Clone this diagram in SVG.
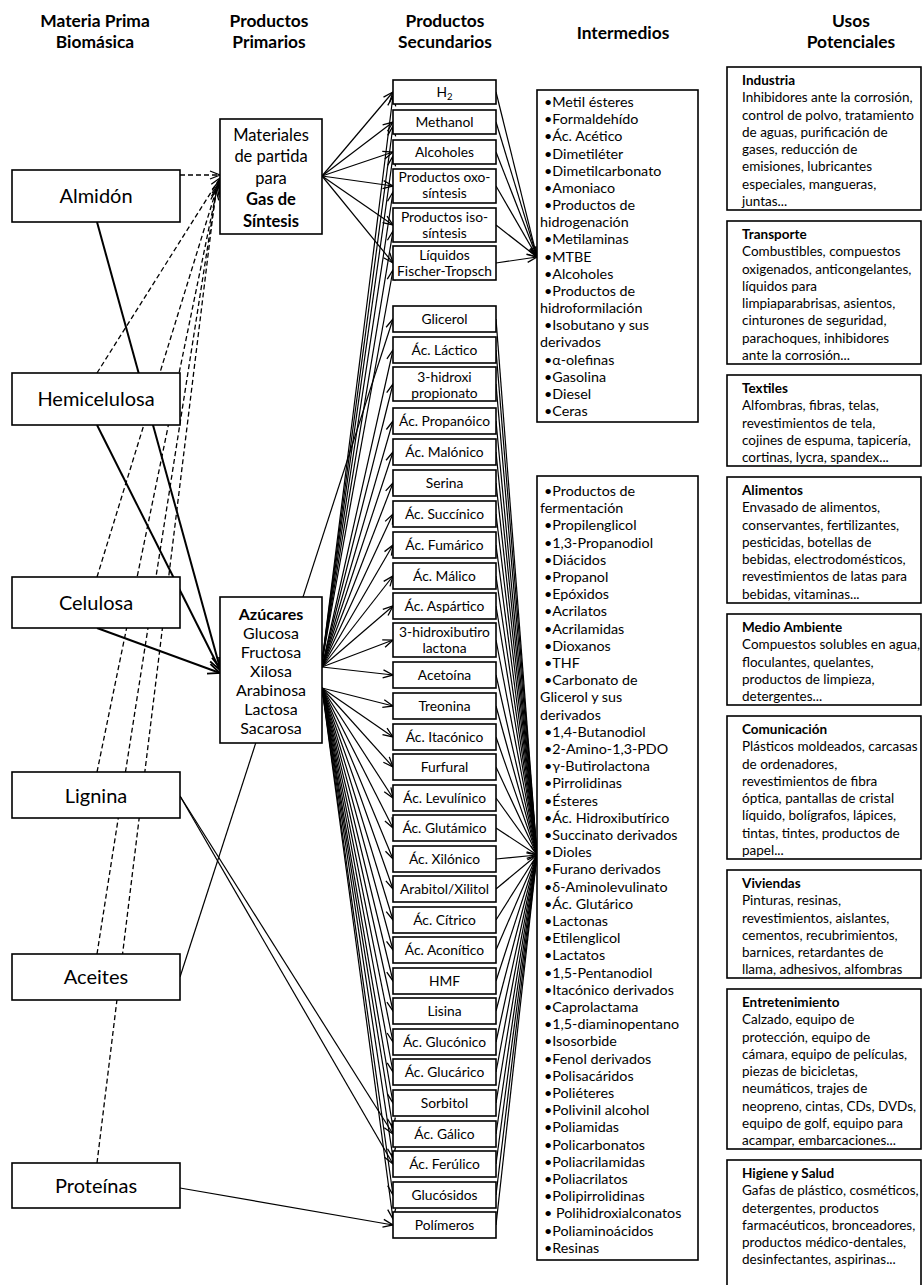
<svg xmlns="http://www.w3.org/2000/svg" width="923" height="1285" viewBox="0 0 923 1285">
<style>
.box{fill:#fff;stroke:#000;stroke-width:1.6}
text{font-family:Lato,'Liberation Sans',sans-serif;fill:#000}
.hd{font-size:17.4px;font-weight:bold;text-anchor:middle}
.bm{font-size:20px;text-anchor:middle}
.pp{font-size:16.5px;text-anchor:middle}
.pz{font-size:16px;text-anchor:middle}
.s{font-size:13.8px;text-anchor:middle}
.im{font-size:14.3px}
.us{font-size:13.5px}
.b{font-weight:bold}
.c line{stroke:#000;fill:none}
.thin{stroke-width:1.2}
.thick{stroke-width:2}
.dash{stroke-width:1.3;stroke-dasharray:5 3}
</style>
<defs>
<marker id="ah" markerUnits="userSpaceOnUse" markerWidth="12" markerHeight="10" refX="11" refY="5" orient="auto" overflow="visible">
<path d="M1,1 L11,5 L1,9" fill="none" stroke="#000" stroke-width="1.3"/>
</marker>
<marker id="ahb" markerUnits="userSpaceOnUse" markerWidth="14" markerHeight="12" refX="13" refY="6" orient="auto" overflow="visible">
<path d="M1,1 L13,6 L1,11" fill="none" stroke="#000" stroke-width="1.8"/>
</marker>
</defs>
<rect width="923" height="1285" fill="#fff"/>

<g id="headers">
<text class="hd" x="95" y="26.5">Materia Prima</text><text class="hd" x="95" y="47.5">Biomásica</text>
<text class="hd" x="269" y="26.5">Productos</text><text class="hd" x="269" y="47.5">Primarios</text>
<text class="hd" x="445" y="26.5">Productos</text><text class="hd" x="445" y="47.5">Secundarios</text>
<text class="hd" x="623" y="39">Intermedios</text>
<text class="hd" x="851" y="26.5">Usos</text><text class="hd" x="851" y="47.5">Potenciales</text>
</g>

<g id="connectors" class="c">
<line class="dash" x1="180" y1="175" x2="220" y2="175" marker-end="url(#ah)"/>
<line class="dash" x1="97" y1="373" x2="220" y2="178" marker-end="url(#ah)"/>
<line class="dash" x1="97" y1="577" x2="219" y2="181" marker-end="url(#ah)"/>
<line class="dash" x1="97" y1="772" x2="218" y2="184" marker-end="url(#ah)"/>
<line class="dash" x1="97" y1="954" x2="217" y2="187" marker-end="url(#ah)"/>
<line class="dash" x1="97" y1="1163" x2="216" y2="190" marker-end="url(#ah)"/>
<line class="thick" x1="97" y1="222" x2="220" y2="668" marker-end="url(#ahb)"/>
<line class="thick" x1="97" y1="425" x2="220" y2="670" marker-end="url(#ahb)"/>
<line class="thick" x1="97" y1="628" x2="220" y2="673" marker-end="url(#ahb)"/>
<line class="thin" x1="180" y1="977" x2="393" y2="319" marker-end="url(#ah)"/>
<line class="thin" x1="180" y1="796" x2="393" y2="1134" marker-end="url(#ah)"/>
<line class="thin" x1="180" y1="796" x2="393" y2="1164" marker-end="url(#ah)"/>
<line class="thin" x1="180" y1="1188" x2="393" y2="1225" marker-end="url(#ah)"/>
<line class="thin" x1="322" y1="176" x2="393" y2="92" marker-end="url(#ah)"/>
<line class="thin" x1="322" y1="176" x2="393" y2="122" marker-end="url(#ah)"/>
<line class="thin" x1="322" y1="176" x2="393" y2="152" marker-end="url(#ah)"/>
<line class="thin" x1="322" y1="176" x2="393" y2="186" marker-end="url(#ah)"/>
<line class="thin" x1="322" y1="176" x2="393" y2="225" marker-end="url(#ah)"/>
<line class="thin" x1="322" y1="176" x2="393" y2="263" marker-end="url(#ah)"/>
<line class="thin" x1="322" y1="662" x2="393" y2="96" marker-end="url(#ah)"/>
<line class="thin" x1="322" y1="662" x2="393" y2="126" marker-end="url(#ah)"/>
<line class="thin" x1="322" y1="662" x2="393" y2="156" marker-end="url(#ah)"/>
<line class="thin" x1="322" y1="662" x2="393" y2="192" marker-end="url(#ah)"/>
<line class="thin" x1="322" y1="662" x2="393" y2="231" marker-end="url(#ah)"/>
<line class="thin" x1="322" y1="662" x2="393" y2="270" marker-end="url(#ah)"/>
<line class="thin" x1="322" y1="667" x2="393" y2="350" marker-end="url(#ah)"/>
<line class="thin" x1="322" y1="667" x2="393" y2="384" marker-end="url(#ah)"/>
<line class="thin" x1="322" y1="667" x2="393" y2="421" marker-end="url(#ah)"/>
<line class="thin" x1="322" y1="667" x2="393" y2="452" marker-end="url(#ah)"/>
<line class="thin" x1="322" y1="667" x2="393" y2="483" marker-end="url(#ah)"/>
<line class="thin" x1="322" y1="667" x2="393" y2="514" marker-end="url(#ah)"/>
<line class="thin" x1="322" y1="667" x2="393" y2="545" marker-end="url(#ah)"/>
<line class="thin" x1="322" y1="667" x2="393" y2="576" marker-end="url(#ah)"/>
<line class="thin" x1="322" y1="667" x2="393" y2="606" marker-end="url(#ah)"/>
<line class="thin" x1="322" y1="667" x2="393" y2="640" marker-end="url(#ah)"/>
<line class="thin" x1="322" y1="667" x2="393" y2="675" marker-end="url(#ah)"/>
<line class="thin" x1="322" y1="688" x2="393" y2="706" marker-end="url(#ah)"/>
<line class="thin" x1="322" y1="688" x2="393" y2="737" marker-end="url(#ah)"/>
<line class="thin" x1="322" y1="688" x2="393" y2="767" marker-end="url(#ah)"/>
<line class="thin" x1="322" y1="688" x2="393" y2="798" marker-end="url(#ah)"/>
<line class="thin" x1="322" y1="688" x2="393" y2="828" marker-end="url(#ah)"/>
<line class="thin" x1="322" y1="688" x2="393" y2="859" marker-end="url(#ah)"/>
<line class="thin" x1="322" y1="688" x2="393" y2="889" marker-end="url(#ah)"/>
<line class="thin" x1="322" y1="688" x2="393" y2="920" marker-end="url(#ah)"/>
<line class="thin" x1="322" y1="688" x2="393" y2="950" marker-end="url(#ah)"/>
<line class="thin" x1="322" y1="688" x2="393" y2="981" marker-end="url(#ah)"/>
<line class="thin" x1="322" y1="688" x2="393" y2="1011" marker-end="url(#ah)"/>
<line class="thin" x1="322" y1="688" x2="393" y2="1042" marker-end="url(#ah)"/>
<line class="thin" x1="322" y1="688" x2="393" y2="1072" marker-end="url(#ah)"/>
<line class="thin" x1="322" y1="688" x2="393" y2="1103" marker-end="url(#ah)"/>
<line class="thin" x1="322" y1="688" x2="393" y2="1128" marker-end="url(#ah)"/>
<line class="thin" x1="322" y1="688" x2="393" y2="1158" marker-end="url(#ah)"/>
<line class="thin" x1="322" y1="688" x2="393" y2="1195" marker-end="url(#ah)"/>
<line class="thin" x1="322" y1="688" x2="393" y2="1219" marker-end="url(#ah)"/>
<line class="thin" x1="496" y1="92" x2="537" y2="257" marker-end="url(#ah)"/>
<line class="thin" x1="496" y1="122" x2="537" y2="257" marker-end="url(#ah)"/>
<line class="thin" x1="496" y1="152" x2="537" y2="257" marker-end="url(#ah)"/>
<line class="thin" x1="496" y1="186" x2="537" y2="257" marker-end="url(#ah)"/>
<line class="thin" x1="496" y1="225" x2="537" y2="257" marker-end="url(#ah)"/>
<line class="thin" x1="496" y1="263" x2="537" y2="257" marker-end="url(#ah)"/>
<line class="thin" x1="496" y1="319" x2="537" y2="855"/>
<line class="thin" x1="496" y1="350" x2="537" y2="855"/>
<line class="thin" x1="496" y1="384" x2="537" y2="855"/>
<line class="thin" x1="496" y1="421" x2="537" y2="855"/>
<line class="thin" x1="496" y1="452" x2="537" y2="855"/>
<line class="thin" x1="496" y1="483" x2="537" y2="855"/>
<line class="thin" x1="496" y1="514" x2="537" y2="855"/>
<line class="thin" x1="496" y1="545" x2="537" y2="855"/>
<line class="thin" x1="496" y1="576" x2="537" y2="855"/>
<line class="thin" x1="496" y1="606" x2="537" y2="855"/>
<line class="thin" x1="496" y1="640" x2="537" y2="855"/>
<line class="thin" x1="496" y1="675" x2="537" y2="855"/>
<line class="thin" x1="496" y1="706" x2="537" y2="855"/>
<line class="thin" x1="496" y1="737" x2="537" y2="855"/>
<line class="thin" x1="496" y1="767" x2="537" y2="855"/>
<line class="thin" x1="496" y1="798" x2="537" y2="855"/>
<line class="thin" x1="496" y1="828" x2="537" y2="855" marker-end="url(#ah)"/>
<line class="thin" x1="496" y1="859" x2="537" y2="855" marker-end="url(#ah)"/>
<line class="thin" x1="496" y1="889" x2="537" y2="855" marker-end="url(#ah)"/>
<line class="thin" x1="496" y1="920" x2="537" y2="855"/>
<line class="thin" x1="496" y1="950" x2="537" y2="855"/>
<line class="thin" x1="496" y1="981" x2="537" y2="855"/>
<line class="thin" x1="496" y1="1011" x2="537" y2="855"/>
<line class="thin" x1="496" y1="1042" x2="537" y2="855"/>
<line class="thin" x1="496" y1="1072" x2="537" y2="855"/>
<line class="thin" x1="496" y1="1103" x2="537" y2="855"/>
<line class="thin" x1="496" y1="1134" x2="537" y2="855"/>
<line class="thin" x1="496" y1="1164" x2="537" y2="855"/>
<line class="thin" x1="496" y1="1195" x2="537" y2="855"/>
<line class="thin" x1="496" y1="1225" x2="537" y2="855"/>
</g>

<g id="biomasa">
<g id="almidon"><rect class="box" x="12" y="170" width="168" height="52"/><text class="bm" x="96" y="203">Almidón</text></g>
<g id="hemicelulosa"><rect class="box" x="12" y="373" width="168" height="52"/><text class="bm" x="96" y="406">Hemicelulosa</text></g>
<g id="celulosa"><rect class="box" x="12" y="577" width="168" height="51"/><text class="bm" x="96" y="610">Celulosa</text></g>
<g id="lignina"><rect class="box" x="12" y="772" width="168" height="46"/><text class="bm" x="96" y="803">Lignina</text></g>
<g id="aceites"><rect class="box" x="12" y="954" width="168" height="46"/><text class="bm" x="96" y="984">Aceites</text></g>
<g id="proteinas"><rect class="box" x="12" y="1163" width="168" height="45"/><text class="bm" x="96" y="1193">Proteínas</text></g>
</g>

<g id="primarios">
<g id="gas-sintesis"><rect class="box" x="220" y="119" width="102" height="115"/>
<text class="pp" x="271" y="141">Materiales</text><text class="pp" x="271" y="162">de partida</text><text class="pp" x="271" y="184">para</text><text class="pp b" x="271" y="205">Gas de</text><text class="pp b" x="271" y="227">Síntesis</text></g>
<g id="azucares"><rect class="box" x="220" y="597" width="102" height="146"/>
<text class="pz b" x="271" y="619.5">Azúcares</text><text class="pz" x="271" y="638.5">Glucosa</text><text class="pz" x="271" y="657.5">Fructosa</text><text class="pz" x="271" y="676.5">Xilosa</text><text class="pz" x="271" y="695.5">Arabinosa</text><text class="pz" x="271" y="714.5">Lactosa</text><text class="pz" x="271" y="733.5">Sacarosa</text></g>
</g>

<g id="secundarios">
<g id="h2"><rect class="box" x="393" y="80" width="103" height="24"/><text class="s" x="444.5" y="97">H<tspan font-size="9.5" dy="3">2</tspan></text></g>
<g id="methanol"><rect class="box" x="393" y="110" width="103" height="24"/><text class="s" x="444.5" y="127">Methanol</text></g>
<g id="alcoholes"><rect class="box" x="393" y="140" width="103" height="24"/><text class="s" x="444.5" y="157">Alcoholes</text></g>
<g id="oxo"><rect class="box" x="393" y="169" width="103" height="34"/><text class="s" x="444.5" y="182">Productos oxo-</text><text class="s" x="444.5" y="198">síntesis</text></g>
<g id="iso"><rect class="box" x="393" y="208" width="103" height="34"/><text class="s" x="444.5" y="222">Productos iso-</text><text class="s" x="444.5" y="238">síntesis</text></g>
<g id="ft"><rect class="box" x="393" y="246" width="103" height="34"/><text class="s" x="444.5" y="260">Líquidos</text><text class="s" x="444.5" y="276">Fischer-Tropsch</text></g>
<g id="glicerol"><rect class="box" x="393" y="306" width="103" height="26"/><text class="s" x="444.5" y="324">Glicerol</text></g>
<g id="lactico"><rect class="box" x="393" y="337" width="103" height="26"/><text class="s" x="444.5" y="355">Ác. Láctico</text></g>
<g id="hidroxipropionato"><rect class="box" x="393" y="367" width="103" height="34"/><text class="s" x="444.5" y="382">3-hidroxi</text><text class="s" x="444.5" y="398">propionato</text></g>
<g id="propanoico"><rect class="box" x="393" y="408" width="103" height="26"/><text class="s" x="444.5" y="426">Ác. Propanóico</text></g>
<g id="malonico"><rect class="box" x="393" y="439" width="103" height="26"/><text class="s" x="444.5" y="457">Ác. Malónico</text></g>
<g id="serina"><rect class="box" x="393" y="470" width="103" height="26"/><text class="s" x="444.5" y="488">Serina</text></g>
<g id="succinico"><rect class="box" x="393" y="501" width="103" height="26"/><text class="s" x="444.5" y="519">Ác. Succínico</text></g>
<g id="fumarico"><rect class="box" x="393" y="532" width="103" height="26"/><text class="s" x="444.5" y="550">Ác. Fumárico</text></g>
<g id="malico"><rect class="box" x="393" y="563" width="103" height="26"/><text class="s" x="444.5" y="581">Ác. Málico</text></g>
<g id="aspartico"><rect class="box" x="393" y="593" width="103" height="26"/><text class="s" x="444.5" y="611">Ác. Aspártico</text></g>
<g id="hidroxibutirolactona"><rect class="box" x="393" y="623" width="103" height="34"/><text class="s" x="444.5" y="637">3-hidroxibutiro</text><text class="s" x="444.5" y="653">lactona</text></g>
<g id="acetoina"><rect class="box" x="393" y="662" width="103" height="26"/><text class="s" x="444.5" y="680">Acetoína</text></g>
<g id="treonina"><rect class="box" x="393" y="693" width="103" height="26"/><text class="s" x="444.5" y="711">Treonina</text></g>
<g id="itaconico"><rect class="box" x="393" y="724" width="103" height="26"/><text class="s" x="444.5" y="742">Ác. Itacónico</text></g>
<g id="furfural"><rect class="box" x="393" y="754" width="103" height="26"/><text class="s" x="444.5" y="772">Furfural</text></g>
<g id="levulinico"><rect class="box" x="393" y="785" width="103" height="26"/><text class="s" x="444.5" y="803">Ác. Levulínico</text></g>
<g id="glutamico"><rect class="box" x="393" y="815" width="103" height="26"/><text class="s" x="444.5" y="833">Ác. Glutámico</text></g>
<g id="xilonico"><rect class="box" x="393" y="846" width="103" height="26"/><text class="s" x="444.5" y="864">Ác. Xilónico</text></g>
<g id="arabitol"><rect class="box" x="393" y="876" width="103" height="26"/><text class="s" x="444.5" y="894">Arabitol/Xilitol</text></g>
<g id="citrico"><rect class="box" x="393" y="907" width="103" height="26"/><text class="s" x="444.5" y="925">Ác. Cítrico</text></g>
<g id="aconitico"><rect class="box" x="393" y="937" width="103" height="26"/><text class="s" x="444.5" y="955">Ác. Aconítico</text></g>
<g id="hmf"><rect class="box" x="393" y="968" width="103" height="26"/><text class="s" x="444.5" y="986">HMF</text></g>
<g id="lisina"><rect class="box" x="393" y="998" width="103" height="26"/><text class="s" x="444.5" y="1016">Lisina</text></g>
<g id="gluconico"><rect class="box" x="393" y="1029" width="103" height="26"/><text class="s" x="444.5" y="1047">Ác. Glucónico</text></g>
<g id="glucarico"><rect class="box" x="393" y="1059" width="103" height="26"/><text class="s" x="444.5" y="1077">Ác. Glucárico</text></g>
<g id="sorbitol"><rect class="box" x="393" y="1090" width="103" height="26"/><text class="s" x="444.5" y="1108">Sorbitol</text></g>
<g id="galico"><rect class="box" x="393" y="1121" width="103" height="26"/><text class="s" x="444.5" y="1139">Ác. Gálico</text></g>
<g id="ferulico"><rect class="box" x="393" y="1151" width="103" height="26"/><text class="s" x="444.5" y="1169">Ác. Ferúlico</text></g>
<g id="glucosidos"><rect class="box" x="393" y="1182" width="103" height="26"/><text class="s" x="444.5" y="1200">Glucósidos</text></g>
<g id="polimeros"><rect class="box" x="393" y="1212" width="103" height="26"/><text class="s" x="444.5" y="1230">Polímeros</text></g>
</g>

<g id="intermedios">
<g id="intermedios-gas"><rect class="box" x="537" y="90" width="161" height="332"/>
<text class="im" y="107"><tspan x="544">•Metil ésteres</tspan><tspan x="544" dy="17.17">•Formaldehído</tspan><tspan x="544" dy="17.17">•Ác. Acético</tspan><tspan x="544" dy="17.17">•Dimetiléter</tspan><tspan x="544" dy="17.17">•Dimetilcarbonato</tspan><tspan x="544" dy="17.17">•Amoniaco</tspan><tspan x="544" dy="17.17">•Productos de</tspan><tspan x="540" dy="17.17">hidrogenación</tspan><tspan x="544" dy="17.17">•Metilaminas</tspan><tspan x="544" dy="17.17">•MTBE</tspan><tspan x="544" dy="17.17">•Alcoholes</tspan><tspan x="544" dy="17.17">•Productos de</tspan><tspan x="540" dy="17.17">hidroformilación</tspan><tspan x="544" dy="17.17">•Isobutano y sus</tspan><tspan x="540" dy="17.17">derivados</tspan><tspan x="544" dy="17.17">•α-olefinas</tspan><tspan x="544" dy="17.17">•Gasolina</tspan><tspan x="544" dy="17.17">•Diesel</tspan><tspan x="544" dy="17.17">•Ceras</tspan></text></g>
<g id="intermedios-azucares"><rect class="box" x="537" y="476" width="161" height="784"/>
<text class="im" y="496" xml:space="preserve"><tspan x="544">•Productos de</tspan><tspan x="540" dy="17.2">fermentación</tspan><tspan x="544" dy="17.2">•Propilenglicol</tspan><tspan x="544" dy="17.2">•1,3-Propanodiol</tspan><tspan x="544" dy="17.2">•Diácidos</tspan><tspan x="544" dy="17.2">•Propanol</tspan><tspan x="544" dy="17.2">•Epóxidos</tspan><tspan x="544" dy="17.2">•Acrilatos</tspan><tspan x="544" dy="17.2">•Acrilamidas</tspan><tspan x="544" dy="17.2">•Dioxanos</tspan><tspan x="544" dy="17.2">•THF</tspan><tspan x="544" dy="17.2">•Carbonato de</tspan><tspan x="540" dy="17.2">Glicerol y sus</tspan><tspan x="540" dy="17.2">derivados</tspan><tspan x="544" dy="17.2">•1,4-Butanodiol</tspan><tspan x="544" dy="17.2">•2-Amino-1,3-PDO</tspan><tspan x="544" dy="17.2">•γ-Butirolactona</tspan><tspan x="544" dy="17.2">•Pirrolidinas</tspan><tspan x="544" dy="17.2">•Ésteres</tspan><tspan x="544" dy="17.2">•Ác. Hidroxibutírico</tspan><tspan x="544" dy="17.2">•Succinato derivados</tspan><tspan x="544" dy="17.2">•Dioles</tspan><tspan x="544" dy="17.2">•Furano derivados</tspan><tspan x="544" dy="17.2">•δ-Aminolevulinato</tspan><tspan x="544" dy="17.2">•Ác. Glutárico</tspan><tspan x="544" dy="17.2">•Lactonas</tspan><tspan x="544" dy="17.2">•Etilenglicol</tspan><tspan x="544" dy="17.2">•Lactatos</tspan><tspan x="544" dy="17.2">•1,5-Pentanodiol</tspan><tspan x="544" dy="17.2">•Itacónico derivados</tspan><tspan x="544" dy="17.2">•Caprolactama</tspan><tspan x="544" dy="17.2">•1,5-diaminopentano</tspan><tspan x="544" dy="17.2">•Isosorbide</tspan><tspan x="544" dy="17.2">•Fenol derivados</tspan><tspan x="544" dy="17.2">•Polisacáridos</tspan><tspan x="544" dy="17.2">•Poliéteres</tspan><tspan x="544" dy="17.2">•Polivinil alcohol</tspan><tspan x="544" dy="17.2">•Poliamidas</tspan><tspan x="544" dy="17.2">•Policarbonatos</tspan><tspan x="544" dy="17.2">•Poliacrilamidas</tspan><tspan x="544" dy="17.2">•Poliacrilatos</tspan><tspan x="544" dy="17.2">•Polipirrolidinas</tspan><tspan x="544" dy="17.2">• Polihidroxialconatos</tspan><tspan x="544" dy="17.2">•Poliaminoácidos</tspan><tspan x="544" dy="17.2">•Resinas</tspan></text></g>
</g>

<g id="usos">
<g id="industria"><rect class="box" x="727" y="67" width="194" height="143"/>
<text class="us" y="85"><tspan x="742" class="b">Industria</tspan><tspan x="742" dy="17.25">Inhibidores ante la corrosión,</tspan><tspan x="742" dy="17.25">control de polvo, tratamiento</tspan><tspan x="742" dy="17.25">de aguas, purificación de</tspan><tspan x="742" dy="17.25">gases, reducción de</tspan><tspan x="742" dy="17.25">emisiones, lubricantes</tspan><tspan x="742" dy="17.25">especiales, mangueras,</tspan><tspan x="742" dy="17.25">juntas...</tspan></text></g>
<g id="transporte"><rect class="box" x="727" y="221" width="194" height="143"/>
<text class="us" y="239"><tspan x="742" class="b">Transporte</tspan><tspan x="742" dy="17.25">Combustibles, compuestos</tspan><tspan x="742" dy="17.25">oxigenados, anticongelantes,</tspan><tspan x="742" dy="17.25">líquidos para</tspan><tspan x="742" dy="17.25">limpiaparabrisas, asientos,</tspan><tspan x="742" dy="17.25">cinturones de seguridad,</tspan><tspan x="742" dy="17.25">parachoques, inhibidores</tspan><tspan x="742" dy="17.25">ante la corrosión...</tspan></text></g>
<g id="textiles"><rect class="box" x="727" y="375" width="194" height="91"/>
<text class="us" y="393"><tspan x="742" class="b">Textiles</tspan><tspan x="742" dy="17.25">Alfombras, fibras, telas,</tspan><tspan x="742" dy="17.25">revestimientos de tela,</tspan><tspan x="742" dy="17.25">cojines de espuma, tapicería,</tspan><tspan x="742" dy="17.25">cortinas, lycra, spandex...</tspan></text></g>
<g id="alimentos"><rect class="box" x="727" y="477" width="194" height="126"/>
<text class="us" y="495"><tspan x="742" class="b">Alimentos</tspan><tspan x="742" dy="17.25">Envasado de alimentos,</tspan><tspan x="742" dy="17.25">conservantes, fertilizantes,</tspan><tspan x="742" dy="17.25">pesticidas, botellas de</tspan><tspan x="742" dy="17.25">bebidas, electrodomésticos,</tspan><tspan x="742" dy="17.25">revestimientos de latas para</tspan><tspan x="742" dy="17.25">bebidas, vitaminas...</tspan></text></g>
<g id="medio-ambiente"><rect class="box" x="727" y="614" width="194" height="91"/>
<text class="us" y="632"><tspan x="742" class="b">Medio Ambiente</tspan><tspan x="742" dy="17.25">Compuestos solubles en agua,</tspan><tspan x="742" dy="17.25">floculantes, quelantes,</tspan><tspan x="742" dy="17.25">productos de limpieza,</tspan><tspan x="742" dy="17.25">detergentes...</tspan></text></g>
<g id="comunicacion"><rect class="box" x="727" y="716" width="194" height="143"/>
<text class="us" y="734"><tspan x="742" class="b">Comunicación</tspan><tspan x="742" dy="17.25">Plásticos moldeados, carcasas</tspan><tspan x="742" dy="17.25">de ordenadores,</tspan><tspan x="742" dy="17.25">revestimientos de fibra</tspan><tspan x="742" dy="17.25">óptica, pantallas de cristal</tspan><tspan x="742" dy="17.25">líquido, bolígrafos, lápices,</tspan><tspan x="742" dy="17.25">tintas, tintes, productos de</tspan><tspan x="742" dy="17.25">papel...</tspan></text></g>
<g id="viviendas"><rect class="box" x="727" y="870" width="194" height="108"/>
<text class="us" y="888"><tspan x="742" class="b">Viviendas</tspan><tspan x="742" dy="17.25">Pinturas, resinas,</tspan><tspan x="742" dy="17.25">revestimientos, aislantes,</tspan><tspan x="742" dy="17.25">cementos, recubrimientos,</tspan><tspan x="742" dy="17.25">barnices, retardantes de</tspan><tspan x="742" dy="17.25">llama, adhesivos, alfombras</tspan></text></g>
<g id="entretenimiento"><rect class="box" x="727" y="989" width="194" height="160"/>
<text class="us" y="1007"><tspan x="742" class="b">Entretenimiento</tspan><tspan x="742" dy="17.25">Calzado, equipo de</tspan><tspan x="742" dy="17.25">protección, equipo de</tspan><tspan x="742" dy="17.25">cámara, equipo de películas,</tspan><tspan x="742" dy="17.25">piezas de bicicletas,</tspan><tspan x="742" dy="17.25">neumáticos, trajes de</tspan><tspan x="742" dy="17.25">neopreno, cintas, CDs, DVDs,</tspan><tspan x="742" dy="17.25">equipo de golf, equipo para</tspan><tspan x="742" dy="17.25">acampar, embarcaciones...</tspan></text></g>
<g id="higiene"><rect class="box" x="727" y="1160" width="194" height="130"/>
<text class="us" y="1178"><tspan x="742" class="b">Higiene y Salud</tspan><tspan x="742" dy="17.25">Gafas de plástico, cosméticos,</tspan><tspan x="742" dy="17.25">detergentes, productos</tspan><tspan x="742" dy="17.25">farmacéuticos, bronceadores,</tspan><tspan x="742" dy="17.25">productos médico-dentales,</tspan><tspan x="742" dy="17.25">desinfectantes, aspirinas...</tspan></text></g>
</g>
</svg>
